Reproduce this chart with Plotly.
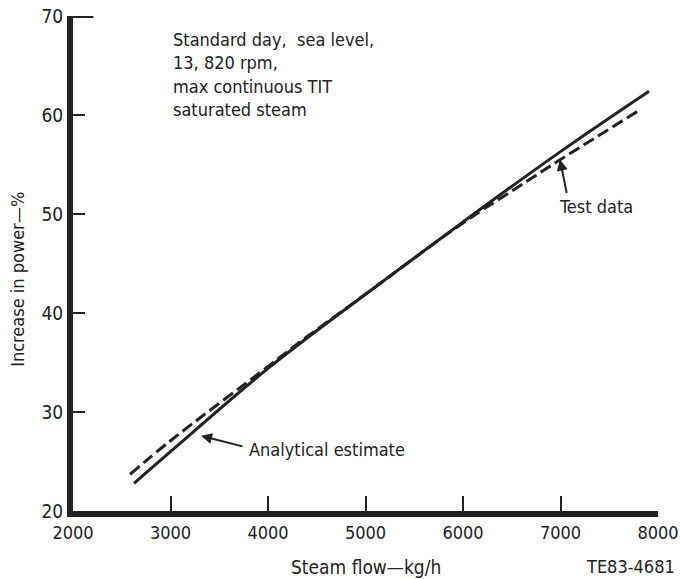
import plotly.graph_objects as go

# Increase in power vs. steam flow (kg/h)
analytical_flow = [2626, 3000, 4000, 5000, 6000, 7000, 7908]
analytical_gain = [22.8, 26.0, 34.4, 41.9, 49.2, 56.3, 62.4]

test_flow = [2585, 3000, 4000, 4400, 5000, 6000, 6560, 7000, 7795]
test_gain = [23.7, 27.1, 34.6, 37.6, 41.9, 49.1, 52.7, 55.5, 60.4]

x_ticks = [2000, 3000, 4000, 5000, 6000, 7000, 8000]
y_ticks = [20, 30, 40, 50, 60, 70]

INK = "#222222"
FONT = "DejaVu Sans Condensed, Liberation Sans Narrow, sans-serif"

fig = go.Figure()

fig.add_trace(go.Scatter(
    x=analytical_flow, y=analytical_gain, mode="lines",
    line=dict(color=INK, width=3, shape="spline"),
    name="Analytical estimate", showlegend=False,
))
fig.add_trace(go.Scatter(
    x=test_flow, y=test_gain, mode="lines",
    line=dict(color=INK, width=3, dash="12px,5px", shape="spline"),
    name="Test data", showlegend=False,
))

# longer tick at the top of the vertical axis
fig.add_shape(type="line", xref="x", yref="y", x0=2000, x1=2210, y0=70, y1=70,
              line=dict(color=INK, width=4))

annotations = [
    dict(x=3000, y=68.9, xref="x", yref="y", xanchor="left", yanchor="top",
         align="left", showarrow=False,
         text="Standard day,  sea level,<br>13, 820 rpm,<br>max continuous TIT<br>saturated steam",
         font=dict(size=18, color=INK, family=FONT)),
    dict(x=6995, y=55.5, xref="x", yref="y", ax=7, ay=35, text="",
         showarrow=True, arrowhead=2, arrowsize=1.1, arrowwidth=2, arrowcolor=INK),
    dict(x=7364, y=50.8, xref="x", yref="y", text="Test data", showarrow=False,
         font=dict(size=18, color=INK, family=FONT)),
    dict(x=3313, y=27.6, xref="x", yref="y", ax=43, ay=11, text="",
         showarrow=True, arrowhead=2, arrowsize=1.1, arrowwidth=2, arrowcolor=INK),
    dict(x=3785, y=26.2, xref="x", yref="y", xanchor="left", text="Analytical estimate",
         showarrow=False, font=dict(size=18, color=INK, family=FONT)),
    dict(x=-0.094, y=0.467, xref="paper", yref="paper", xanchor="center", yanchor="middle",
         textangle=-90, text="Increase in power\u2014%", showarrow=False,
         font=dict(size=18, color=INK, family=FONT)),
    dict(x=0.501, y=-0.113, xref="paper", yref="paper", xanchor="center", yanchor="middle",
         text="Steam flow\u2014kg/h", showarrow=False,
         font=dict(size=19, color=INK, family=FONT)),
    dict(x=1.032, y=-0.113, xref="paper", yref="paper", xanchor="right", yanchor="middle",
         text="TE83-4681", showarrow=False,
         font=dict(size=18, color=INK, family=FONT)),
]

fig.update_layout(
    width=680, height=579,
    margin=dict(l=73, r=22, t=16, b=68, autoexpand=False),
    paper_bgcolor="white", plot_bgcolor="white",
    annotations=annotations,
    xaxis=dict(range=[2000, 8000], tickvals=x_ticks, showgrid=False, zeroline=False,
               showline=True, linecolor=INK, linewidth=6, automargin=False,
               ticks="inside", ticklen=15, tickwidth=2, tickcolor=INK,
               tickfont=dict(size=18, color=INK, family=FONT)),
    yaxis=dict(range=[20, 70], tickvals=y_ticks, showgrid=False, zeroline=False,
               showline=True, linecolor=INK, linewidth=6, automargin=False,
               ticks="inside", ticklen=12, tickwidth=2, tickcolor=INK,
               tickfont=dict(size=19, color=INK, family=FONT)),
)

fig.write_html("out.html")
